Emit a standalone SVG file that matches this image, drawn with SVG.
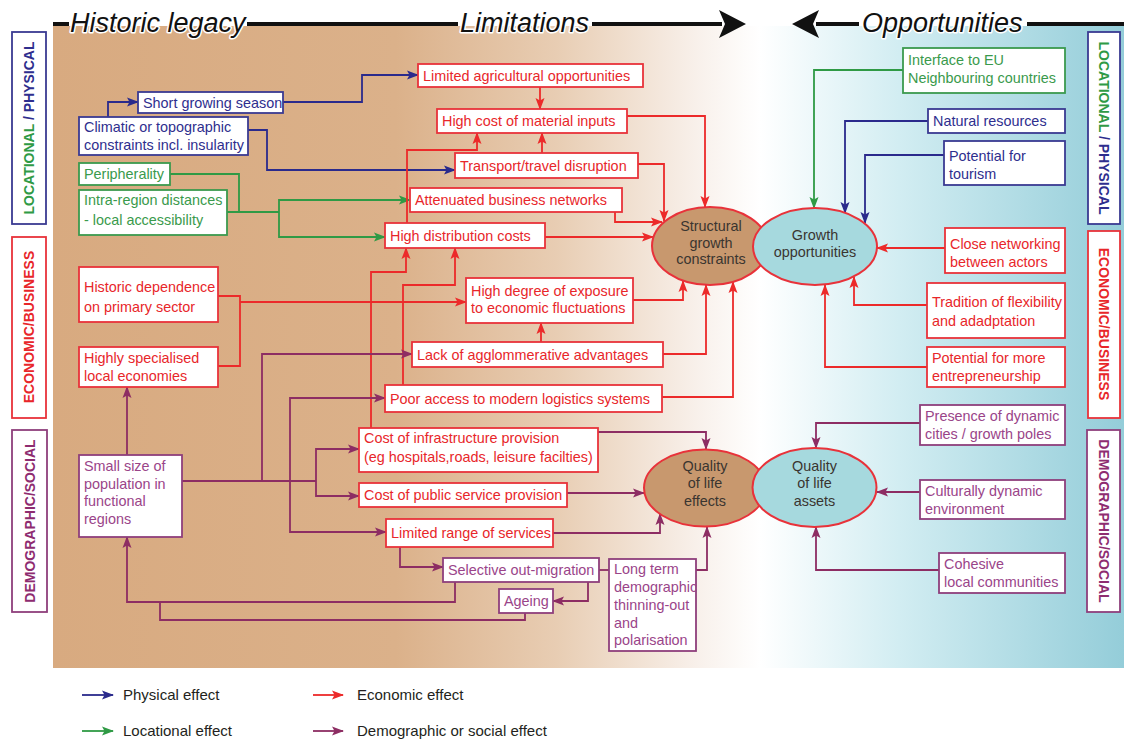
<svg xmlns="http://www.w3.org/2000/svg" width="1124" height="740" viewBox="0 0 1124 740">
<defs>
<linearGradient id="bg" x1="53" y1="0" x2="1124" y2="0" gradientUnits="userSpaceOnUse">
<stop offset="0" stop-color="#d8aa80"/>
<stop offset="0.32" stop-color="#dbb18a"/>
<stop offset="0.47" stop-color="#e8cdb3"/>
<stop offset="0.6" stop-color="#f8f0ea"/>
<stop offset="0.66" stop-color="#ffffff"/>
<stop offset="0.79" stop-color="#d2edf2"/>
<stop offset="1" stop-color="#94cdd9"/>
</linearGradient>
<marker id="ab" markerUnits="userSpaceOnUse" markerWidth="12" markerHeight="10" refX="11" refY="5" orient="auto"><path d="M0,0.5 L12,5 L0,9.5 L2.5,5 z" fill="#2a2a8c"/></marker>
<marker id="ag" markerUnits="userSpaceOnUse" markerWidth="12" markerHeight="10" refX="11" refY="5" orient="auto"><path d="M0,0.5 L12,5 L0,9.5 L2.5,5 z" fill="#2f9a45"/></marker>
<marker id="ar" markerUnits="userSpaceOnUse" markerWidth="12" markerHeight="10" refX="11" refY="5" orient="auto"><path d="M0,0.5 L12,5 L0,9.5 L2.5,5 z" fill="#ec2a2a"/></marker>
<marker id="ap" markerUnits="userSpaceOnUse" markerWidth="12" markerHeight="10" refX="11" refY="5" orient="auto"><path d="M0,0.5 L12,5 L0,9.5 L2.5,5 z" fill="#8d2d63"/></marker>
</defs>
<style>
text{font-family:"Liberation Sans",Arial,sans-serif;font-size:14.4px}
.nb{fill:#fff;stroke:#3a3a92;stroke-width:1.8}
.ng{fill:#fff;stroke:#3b9a4e;stroke-width:1.8}
.nr{fill:#fff;stroke:#e8323a;stroke-width:1.8}
.np{fill:#fff;stroke:#8e3f7c;stroke-width:1.8}
.tb{fill:#2e2e8e}
.tg{fill:#3a9a4c}
.tr{fill:#e8262a}
.tp{fill:#9a4489}
.te{fill:#3a3530;text-anchor:middle}
.cb,.cg,.cr,.cp{fill:none;stroke-width:1.8}
.cb{stroke:#2a2a8c;marker-end:url(#ab)}
.cg{stroke:#2f9a45;marker-end:url(#ag)}
.cr{stroke:#ec2a2a;marker-end:url(#ar)}
.cp{stroke:#8d2d63;marker-end:url(#ap)}
.nm{marker-end:none}
.hd{font-size:27px;font-style:italic;fill:#111;stroke:#fff;stroke-width:3;paint-order:stroke;stroke-linejoin:round}
.side{font-size:14px;font-weight:bold;text-anchor:middle}
.lg{font-size:15px;fill:#231f20}
</style>

<rect x="53" y="26" width="1071" height="642" fill="url(#bg)"/>

<g id="header">
<path d="M53,24 H69 M247,24 H458 M592,24 H722 M816,24 H859 M1027,24 H1124" stroke="#111" stroke-width="4" fill="none"/>
<polygon points="746,24 719,10 725,24 719,38" fill="#111"/>
<polygon points="792,24 819,10 813,24 819,38" fill="#111"/>
<text class="hd" x="70" y="32">Historic legacy</text>
<text class="hd" x="460" y="32">Limitations</text>
<text class="hd" x="862" y="32">Opportunities</text>
</g>

<g id="side-labels">
<rect x="12" y="32" width="34" height="192" class="nb"/>
<text class="side" transform="translate(29,128) rotate(-90)" y="5"><tspan fill="#2f9a45">LOCATIONAL</tspan><tspan fill="#2e2e8e"> / PHYSICAL</tspan></text>
<rect x="12" y="237" width="34" height="181" class="nr"/>
<text class="side" transform="translate(29,327) rotate(-90)" y="5" fill="#e8262a">ECONOMIC/BUSINESS</text>
<rect x="12" y="430" width="35" height="182" class="np"/>
<text class="side" transform="translate(29.5,521) rotate(-90)" y="5" fill="#8e2c70">DEMOGRAPHIC/SOCIAL</text>
<rect x="1088" y="32" width="32" height="192" class="nb"/>
<text class="side" transform="translate(1104,128) rotate(90)" y="5"><tspan fill="#2f9a45">LOCATIONAL</tspan><tspan fill="#2e2e8e"> / PHYSICAL</tspan></text>
<rect x="1088" y="231" width="32" height="187" class="nr"/>
<text class="side" transform="translate(1104,324) rotate(90)" y="5" fill="#e8262a">ECONOMIC/BUSINESS</text>
<rect x="1087" y="430" width="33" height="182" class="np"/>
<text class="side" transform="translate(1103.5,521) rotate(90)" y="5" fill="#8e2c70">DEMOGRAPHIC/SOCIAL</text>
</g>

<g id="connectors">
<path class="cb" d="M108,117 V102 H138"/>
<path class="cb" d="M283,102 H362 V75 H418"/>
<path class="cb" d="M248,130 H267 V170 H455"/>
<path class="cg nm" d="M170,174 H239 V212"/>
<path class="cg nm" d="M227,212 H279"/>
<path class="cg" d="M279,212 V200 H410"/>
<path class="cg" d="M279,212 V237 H385"/>
<path class="cr" d="M540,87 V109"/>
<path class="cr" d="M542,153 V133"/>
<path class="cr" d="M407,223 V150 H477 V133"/>
<path class="cr" d="M627,116 H705 V207"/>
<path class="cr" d="M638,164 H664 V221"/>
<path class="cr" d="M615,212 V222 H662"/>
<path class="cr" d="M545,237 H653"/>
<path class="cr nm" d="M218,296 H240 V366 H218"/>
<path class="cr" d="M240,302 H466"/>
<path class="cr" d="M371,428 V272 H406 V248"/>
<path class="cr" d="M403,385 V285 H455 V248"/>
<path class="cr" d="M633,300 H683 V281"/>
<path class="cr" d="M541,342 V323"/>
<path class="cr" d="M663,354 H706 V285"/>
<path class="cr" d="M662,397 H733 V282"/>
<path class="cr" d="M945,248 H877"/>
<path class="cr" d="M927,305 H854 V277"/>
<path class="cr" d="M927,367 H825 V285"/>
<path class="cg" d="M903,70 H814 V208"/>
<path class="cb" d="M928,121 H845 V213"/>
<path class="cb" d="M944,155 H865 V223"/>
<path class="cp" d="M127,455 V387"/>
<path class="cp nm" d="M182,481 H316"/>
<path class="cp" d="M316,481 V449 H359"/>
<path class="cp" d="M316,481 V496 H359"/>
<path class="cp" d="M262,481 V354 H412"/>
<path class="cp" d="M290,481 V398 H385"/>
<path class="cp" d="M290,481 V532 H386"/>
<path class="cp" d="M400,547 V567 H443"/>
<path class="cp" d="M455,582 V602 H127 V537"/>
<path class="cp nm" d="M525,613 V620 H160 V602"/>
<path class="cp" d="M588,582 V601 H553"/>
<path class="cp nm" d="M599,570 H609"/>
<path class="cp" d="M696,570 H707 V527"/>
<path class="cp" d="M598,432 H706 V449"/>
<path class="cp" d="M567,493 H644"/>
<path class="cp" d="M553,533 H660 V514"/>
<path class="cp" d="M920,423 H816 V448"/>
<path class="cp" d="M920,492 H877"/>
<path class="cp" d="M939,570 H816 V527"/>
</g>

<g id="n-short-growing"><rect x="138" y="92" width="145" height="21" class="nb"/><text class="tb" x="143" y="107.5">Short growing season</text></g>
<g id="n-climatic"><rect x="79" y="117" width="169" height="38" class="nb"/><text class="tb"><tspan x="84" y="132">Climatic or topographic</tspan><tspan x="84" y="150">constraints incl. insularity</tspan></text></g>
<g id="n-peripherality"><rect x="79" y="163" width="91" height="22" class="ng"/><text class="tg" x="84" y="179">Peripherality</text></g>
<g id="n-intra-region"><rect x="79" y="190" width="148" height="45" class="ng"/><text class="tg"><tspan x="84" y="205">Intra-region distances</tspan><tspan x="84" y="225">- local accessibility</tspan></text></g>
<g id="n-historic-dependence"><rect x="79" y="267" width="139" height="55" class="nr"/><text class="tr"><tspan x="84" y="292">Historic dependence</tspan><tspan x="84" y="312">on primary sector</tspan></text></g>
<g id="n-highly-specialised"><rect x="79" y="347" width="139" height="40" class="nr"/><text class="tr"><tspan x="84" y="363">Highly specialised</tspan><tspan x="84" y="381">local economies</tspan></text></g>
<g id="n-small-size"><rect x="79" y="455" width="103" height="82" class="np"/><text class="tp"><tspan x="84" y="471">Small size of</tspan><tspan x="84" y="489">population in</tspan><tspan x="84" y="506">functional</tspan><tspan x="84" y="524">regions</tspan></text></g>

<g id="n-limited-agri"><rect x="418" y="64" width="225" height="23" class="nr"/><text class="tr" x="423" y="80.5">Limited agricultural opportunities</text></g>
<g id="n-high-cost"><rect x="437" y="109" width="190" height="24" class="nr"/><text class="tr" x="442" y="126">High cost of material inputs</text></g>
<g id="n-transport"><rect x="455" y="153" width="183" height="25" class="nr"/><text class="tr" x="460" y="170.5">Transport/travel disruption</text></g>
<g id="n-attenuated"><rect x="410" y="188" width="212" height="24" class="nr"/><text class="tr" x="415" y="205">Attenuated business networks</text></g>
<g id="n-high-distribution"><rect x="385" y="223" width="160" height="25" class="nr"/><text class="tr" x="390" y="240.5">High distribution costs</text></g>
<g id="n-high-degree"><rect x="466" y="278" width="167" height="45" class="nr"/><text class="tr"><tspan x="471" y="296">High degree of exposure</tspan><tspan x="471" y="313">to economic fluctuations</tspan></text></g>
<g id="n-lack-agglom"><rect x="412" y="342" width="251" height="25" class="nr"/><text class="tr" x="417" y="359.5">Lack of agglommerative advantages</text></g>
<g id="n-poor-access"><rect x="385" y="385" width="277" height="27" class="nr"/><text class="tr" x="390" y="403.5">Poor access to modern logistics systems</text></g>
<g id="n-cost-infra"><rect x="359" y="428" width="239" height="44" class="nr"/><text class="tr"><tspan x="364" y="443">Cost of infrastructure provision</tspan><tspan x="364" y="462">(eg hospitals,roads, leisure facilties)</tspan></text></g>
<g id="n-cost-public"><rect x="359" y="483" width="208" height="24" class="nr"/><text class="tr" x="364" y="500">Cost of public service provision</text></g>
<g id="n-limited-range"><rect x="386" y="519" width="167" height="28" class="nr"/><text class="tr" x="391" y="538">Limited range of services</text></g>
<g id="n-selective"><rect x="443" y="558" width="156" height="24" class="np"/><text class="tp" x="448" y="575">Selective out-migration</text></g>
<g id="n-ageing"><rect x="499" y="589" width="54" height="24" class="np"/><text class="tp" x="504" y="606">Ageing</text></g>
<g id="n-long-term"><rect x="609" y="559" width="87" height="92" class="np"/><text class="tp"><tspan x="614" y="574">Long term</tspan><tspan x="614" y="592">demographic</tspan><tspan x="614" y="610">thinning-out</tspan><tspan x="614" y="628">and</tspan><tspan x="614" y="645">polarisation</tspan></text></g>

<g id="n-interface-eu"><rect x="903" y="48" width="162" height="45" class="ng"/><text class="tg"><tspan x="908" y="65">Interface to EU</tspan><tspan x="908" y="83">Neighbouring countries</tspan></text></g>
<g id="n-natural-resources"><rect x="928" y="109" width="137" height="24" class="nb"/><text class="tb" x="933" y="126">Natural resources</text></g>
<g id="n-tourism"><rect x="944" y="141" width="121" height="44" class="nb"/><text class="tb"><tspan x="949" y="161">Potential for</tspan><tspan x="949" y="179">tourism</tspan></text></g>
<g id="n-close-networking"><rect x="945" y="228" width="120" height="45" class="nr"/><text class="tr"><tspan x="950" y="249">Close networking</tspan><tspan x="950" y="267">between actors</tspan></text></g>
<g id="n-tradition"><rect x="927" y="283" width="138" height="55" class="nr"/><text class="tr"><tspan x="932" y="307">Tradition of flexibility</tspan><tspan x="932" y="326">and adadptation</tspan></text></g>
<g id="n-entrepreneurship"><rect x="927" y="347" width="138" height="40" class="nr"/><text class="tr"><tspan x="932" y="363">Potential for more</tspan><tspan x="932" y="381">entrepreneurship</tspan></text></g>
<g id="n-dynamic-cities"><rect x="920" y="405" width="145" height="40" class="np"/><text class="tp"><tspan x="925" y="421">Presence of dynamic</tspan><tspan x="925" y="439">cities / growth poles</tspan></text></g>
<g id="n-culturally"><rect x="920" y="480" width="145" height="39" class="np"/><text class="tp"><tspan x="925" y="496">Culturally dynamic</tspan><tspan x="925" y="514">environment</tspan></text></g>
<g id="n-cohesive"><rect x="939" y="553" width="126" height="40" class="np"/><text class="tp"><tspan x="944" y="569">Cohesive</tspan><tspan x="944" y="587">local communities</tspan></text></g>

<g id="n-structural"><ellipse cx="710" cy="246" rx="58" ry="39" fill="#c8986e" stroke="#e8323a" stroke-width="2"/><text class="te"><tspan x="711" y="231">Structural</tspan><tspan x="711" y="248">growth</tspan><tspan x="711" y="264">constraints</tspan></text></g>
<g id="n-growth"><ellipse cx="815" cy="246.5" rx="62" ry="38.5" fill="#a6d9de" stroke="#e8323a" stroke-width="2"/><text class="te"><tspan x="815" y="240">Growth</tspan><tspan x="815" y="257">opportunities</tspan></text></g>
<g id="n-qol-effects"><ellipse cx="705" cy="488" rx="61" ry="38.5" fill="#c8986e" stroke="#e8323a" stroke-width="2"/><text class="te"><tspan x="705" y="471">Quality</tspan><tspan x="705" y="488">of life</tspan><tspan x="705" y="506">effects</tspan></text></g>
<g id="n-qol-assets"><ellipse cx="814.5" cy="487.5" rx="62" ry="39.5" fill="#a6d9de" stroke="#e8323a" stroke-width="2"/><text class="te"><tspan x="814.5" y="471">Quality</tspan><tspan x="814.5" y="488">of life</tspan><tspan x="814.5" y="506">assets</tspan></text></g>

<g id="legend">
<path class="cb" d="M82,695 H113"/>
<text class="lg" x="123" y="700">Physical effect</text>
<path class="cg" d="M82,731 H113"/>
<text class="lg" x="123" y="736">Locational effect</text>
<path class="cr" d="M313,695 H343"/>
<text class="lg" x="357" y="700">Economic effect</text>
<path class="cp" d="M313,731 H343"/>
<text class="lg" x="357" y="736">Demographic or social effect</text>
</g>
</svg>
